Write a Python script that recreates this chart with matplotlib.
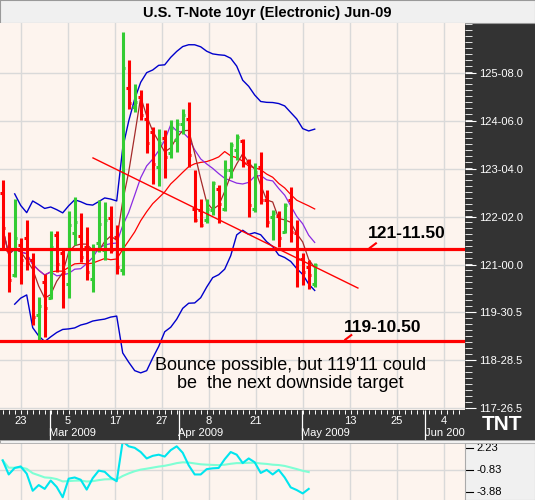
import matplotlib
matplotlib.use("Agg")
import matplotlib.pyplot as plt
import numpy as np
import pandas as pd
from matplotlib.patches import Rectangle

# daily bars: open, high, low, close
opens = [122.6, 121.33, 120.77, 121.44, 121.6, 121.1, 119.9, 120.63, 120.26, 121.66,
         121.26, 120.59, 121.7, 121.64, 121.4, 120.68, 121.49, 121.33, 122.03, 121.62,
         120.89, 124.92, 124.5, 124.72, 124.24, 123.95, 123.17, 123.82, 123.47, 123.76,
         124.13, 124.24, 122.25, 122.21, 121.99, 122.21, 122.69, 122.23, 123.1, 123.54,
         123.74, 123.28, 122.25, 123.17, 122.43, 122.07, 122.08, 121.73, 122.43, 121.7,
         121.14, 120.96, 120.59]
highs = [122.88, 121.73, 122.46, 121.59, 122.0, 121.26, 120.3, 120.81, 121.76, 121.75,
         121.38, 122.19, 122.51, 122.15, 121.84, 121.46, 122.44, 122.4, 122.3, 121.88,
         126.16, 125.53, 125.0, 124.87, 124.58, 124.06, 124.02, 123.99, 124.22, 124.24,
         124.45, 124.61, 123.1, 122.45, 122.45, 122.86, 122.77, 123.32, 123.73, 123.9,
         123.8, 123.34, 123.25, 123.51, 122.66, 122.21, 122.19, 122.38, 122.73, 122.0,
         121.26, 121.12, 121.05]
lows = [121.33, 120.4, 120.74, 120.59, 120.9, 119.67, 119.34, 119.4, 120.24, 120.85,
        120.04, 120.26, 121.44, 121.07, 120.66, 120.4, 121.29, 121.11, 121.26, 120.81,
        120.77, 124.46, 124.39, 124.21, 123.47, 122.8, 122.75, 122.92, 123.36, 123.5,
        123.91, 123.17, 121.95, 121.83, 121.93, 122.1, 121.94, 122.2, 122.92, 123.32,
        123.17, 122.07, 122.18, 122.36, 121.84, 121.55, 121.4, 121.7, 121.51, 120.52,
        120.55, 120.46, 120.52]
closes = [121.81, 120.66, 121.59, 121.11, 121.07, 119.85, 120.1, 120.04, 121.39, 121.03,
          120.85, 121.88, 121.95, 121.17, 120.85, 121.33, 121.9, 122.0, 121.33, 120.96,
          125.36, 124.58, 124.61, 124.32, 123.69, 123.23, 123.7, 123.4, 124.04, 124.13,
          124.32, 123.43, 122.0, 121.88, 122.23, 122.82, 122.36, 123.1, 123.65, 123.84,
          123.26, 122.32, 123.06, 122.43, 121.95, 122.14, 121.59, 122.32, 121.73, 121.14,
          120.85, 120.77, 121.0]

# oscillator in lower panel
osc = [0.49, -1.46, -0.56, -0.35, -1.35, -3.72, -2.93, -3.46, -2.30, -3.19,
       -4.62, -2.04, -1.88, -2.19, -3.56, -1.98, -0.93, -1.09, -1.88, -2.40,
       3.13, 2.44, 2.23, 1.65, 0.76, 1.12, 1.28, 1.02, 1.91, 2.44,
       1.55, -0.19, -1.46, -1.46, -0.72, -0.61, -0.56, 0.65, 1.65, 1.28,
       0.12, 0.76, 0.23, -1.25, -0.82, -1.46, -0.82, -1.88, -3.25, -3.62,
       -4.09, -3.46]

price_ticks = [125.25, 124.1875, 123.125, 122.0625, 121.0, 119.953, 118.891, 117.828]
price_labels = ["125-08.0", "124-06.0", "123-04.0", "122-02.0", "121-00.0",
                "119-30.5", "118-28.5", "117-26.5"]
day_pos = [3.05, 10.88, 18.72, 26.55, 34.38, 42.2, 57.9, 65.7, 73.5]
day_labels = ["23", "5", "17", "27", "8", "21", "13", "25", "4"]
grid_pos = [3.05, 10.88, 18.72, 26.55, 34.38, 42.2, 50.05, 57.9, 65.7, 73.5]
month_pos = [7.88, 29.4, 49.9, 70.4]
month_labels = ["Mar 2009", "Apr 2009", "May 2009", "Jun 2009"]
support1 = 121.359
support2 = 119.328
trend_x = [15.05, 59.2]
trend_y = [123.37, 120.49]

BG = "#fdf4ee"
DARK = "#333333"
FONT = "Liberation Sans"

fig = plt.figure(figsize=(5.35, 5.0), dpi=100, facecolor=DARK)
W, H = 535.0, 500.0


def box(x0, y0, x1, y1):
    return [x0 / W, 1 - y1 / H, (x1 - x0) / W, (y1 - y0) / H]


# title bar
tax = fig.add_axes(box(0, 0, 535, 23))
tax.set_facecolor("#f0f0f0")
tax.set_xticks([])
tax.set_yticks([])
for s in tax.spines.values():
    s.set_color("#999999")
tax.text(0.5, 0.45, "U.S. T-Note 10yr (Electronic) Jun-09", ha="center", va="center",
         fontsize=10.5, fontweight="bold", family=FONT)

# main chart
ax = fig.add_axes(box(0, 23, 465, 410))
ax.set_facecolor(BG)
ax.set_xlim(-0.45, 77.05)
ax.set_ylim(117.79, 126.357)
for s in ax.spines.values():
    s.set_visible(False)
for g in grid_pos:
    ax.axvline(g, color="#d9d9d9", lw=1, zorder=0)
for p in price_ticks:
    ax.axhline(p, color="#d9d9d9", lw=1, zorder=0)

df = pd.DataFrame({"close": closes})
x = np.arange(len(closes))
mid = df.close.rolling(20, min_periods=3).mean()
sd = df.close.rolling(20, min_periods=3).std()
ax.plot(x, mid + 2 * sd, color="#0000cc", lw=1)
ax.plot(x, mid - 2 * sd, color="#0000cc", lw=1)
ax.plot(x, df.close.rolling(18, min_periods=1).mean(), color="red", lw=0.9)
ax.plot(x, df.close.rolling(9, min_periods=1).mean(), color="#8a2be2", lw=0.9)
ax.plot(x, df.close.rolling(4, min_periods=1).mean(), color="#a52a2a", lw=0.9)

for i in range(len(closes)):
    c = "#33cc33" if closes[i] >= opens[i] else "red"
    ax.vlines(i, lows[i], highs[i], color=c, lw=2.2)
    ax.hlines(opens[i], i - 0.45, i, color=c, lw=2.2)
    ax.hlines(closes[i], i, i + 0.45, color=c, lw=2.2)

ax.axhline(support1, color="red", lw=2.3)
ax.axhline(support2, color="red", lw=2.3)
ax.plot(trend_x, trend_y, color="red", lw=1)
ax.plot([61.2, 62.2], [support1 + 0.02, support1 + 0.12], color="red", lw=1.5)
ax.plot([57.1, 58.1], [support2 + 0.02, support2 + 0.12], color="red", lw=1.5)
ax.text(67.4, 121.69, "121-11.50", ha="center", va="center", fontsize=12.5,
        fontweight="bold", family=FONT)
ax.text(63.3, 119.62, "119-10.50", ha="center", va="center", fontsize=12.5,
        fontweight="bold", family=FONT)
ax.text(47.9, 118.58, "Bounce possible, but 119'11 could\nbe  the next downside target",
        ha="center", va="center", fontsize=13, family=FONT, linespacing=1.05)

ax.yaxis.tick_right()
ax.set_yticks(price_ticks)
ax.set_yticklabels(price_labels, color="white", fontsize=8, family=FONT)
ax.set_yticks(np.arange(117.828, 126.357, 1.0625 / 8), minor=True)
ax.tick_params(axis="y", which="major", length=8, color="white", pad=2, direction="out")
ax.tick_params(axis="y", which="minor", length=5, color="white", direction="out")
ax.set_xticks([])

# date axis
dax = fig.add_axes(box(0, 410, 465, 440))
dax.set_facecolor(DARK)
dax.set_xlim(ax.get_xlim())
dax.set_ylim(0, 1)
dax.axis("off")
dax.vlines(np.arange(0, 78), 0.87, 1.0, color="white", lw=0.7)
dax.vlines(month_pos, 0.0, 1.0, color="white", lw=0.9)
for p, l in zip(day_pos, day_labels):
    dax.text(p, 0.64, l, ha="center", va="center", color="white", fontsize=8,
             family=FONT)
for p, l in zip(month_pos, month_labels):
    dax.text(p - 0.1, 0.22, l, ha="left", va="center", color="white", fontsize=8,
             family=FONT, clip_on=True)
fig.text(502 / W, 1 - 424 / H, "TNT", ha="center", va="center", color="white",
         fontsize=15, fontweight="bold", family=FONT)
fig.patches.append(Rectangle((0, 1 - 443 / H), 1, 3 / H, transform=fig.transFigure,
                             facecolor="#f0f0f0", edgecolor="#aaaaaa", lw=0.6))

# lower panel
lax = fig.add_axes(box(0, 443, 465, 500))
lax.set_facecolor(BG)
lax.set_xlim(ax.get_xlim())
lax.set_ylim(-5.0, 2.9)
for s in lax.spines.values():
    s.set_visible(False)
for g in grid_pos:
    lax.axvline(g, color="#d9d9d9", lw=1, zorder=0)
lax.axhline(-0.83, color="#d9d9d9", lw=1, zorder=0)
lax.set_xticks([])
lax.set_yticks([])
xo = np.arange(len(osc))
lax.plot(xo, pd.Series(osc).ewm(span=28).mean(), color="#7fffd4", lw=1.5)
lax.plot(xo, osc, color="#00e5ee", lw=1.5)

rax = fig.add_axes(box(465, 443, 535, 500))
rax.set_facecolor("#f0f0f0")
rax.set_xlim(0, 1)
rax.set_ylim(-5.0, 2.9)
rax.set_xticks([])
rax.set_yticks([])
for s in rax.spines.values():
    s.set_color("#aaaaaa")
for v, l in zip([2.23, -0.83, -3.88], ["2.23", "-0.83", "-3.88"]):
    rax.plot([0.02, 0.12], [v, v], color="black", lw=0.8)
    rax.text(0.16, v, l, va="center", fontsize=8, family=FONT)

fig.savefig("out.png", dpi=100, facecolor=DARK)
